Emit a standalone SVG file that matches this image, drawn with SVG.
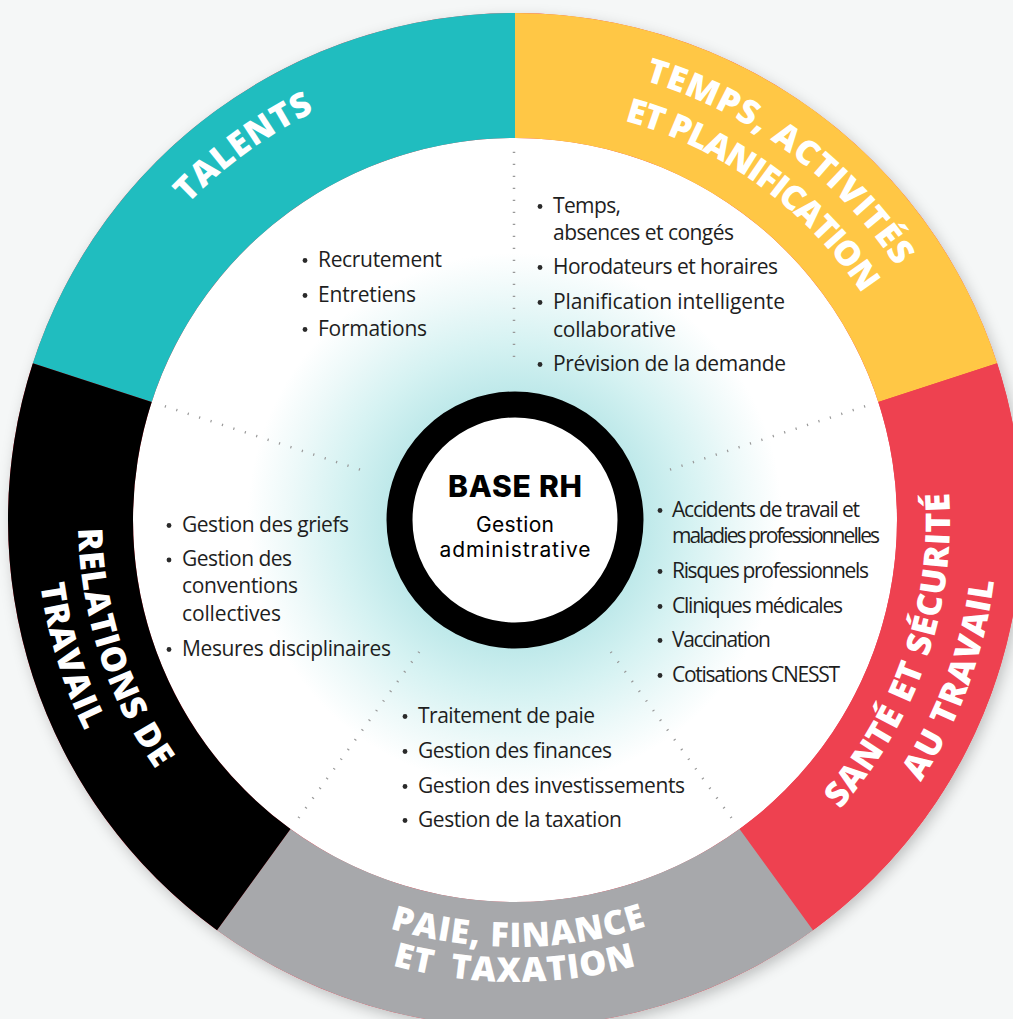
<svg xmlns="http://www.w3.org/2000/svg" width="1013" height="1019" viewBox="0 0 1013 1019">
<defs>
<style>
.item{font-family:"Open Sans","Noto Sans",sans-serif;font-size:21px;fill:#1e1e1e}
.title{font-family:"Open Sans","Noto Sans",sans-serif;font-weight:800;font-size:34px;fill:#ffffff}
.bul{fill:#2a2a2a}
.dots{stroke:#999999;stroke-width:2.5;stroke-dasharray:1.2 10.8;fill:none}
.center{font-family:Inter,"Noto Sans",sans-serif;fill:#000000}
</style>
<radialGradient id="glow" cx="515" cy="520" r="382" gradientUnits="userSpaceOnUse">
<stop offset="0" stop-color="#bde9ea"/>
<stop offset="0.34" stop-color="#bfe9ea"/>
<stop offset="0.46" stop-color="#d5f2f2"/>
<stop offset="0.59" stop-color="#edf9f9"/>
<stop offset="0.70" stop-color="#ffffff"/>
<stop offset="1" stop-color="#ffffff"/>
</radialGradient>
<filter id="shadow" x="-10%" y="-10%" width="120%" height="120%">
<feDropShadow dx="3" dy="5" stdDeviation="7" flood-color="#000" flood-opacity="0.22"/>
</filter>
<path id="arcTalents" d="M 62.49 567.56 A 455 455 0 0 1 700.07 104.34"/>
<path id="arcTemps1" d="M 332.37 99.99 A 457 457 0 0 1 969.06 571.73"/>
<path id="arcTemps2" d="M 346.61 141.79 A 415 415 0 0 1 927.73 563.38"/>
<path id="arcSante1" d="M 598.00 947.01 A 435 435 0 0 0 843.30 234.61"/>
<path id="arcSante2" d="M 598.87 995.66 A 483 483 0 0 0 885.00 209.53"/>
<path id="arcRel1" d="M 190.25 227.59 A 437 437 0 0 0 424.14 947.45"/>
<path id="arcRel2" d="M 164.68 193.32 A 479 479 0 0 0 407.25 986.72"/>
<path id="arcPaie1" d="M 147.08 736.72 A 427 427 0 0 0 886.64 730.26"/>
<path id="arcPaie2" d="M 114.90 751.00 A 462 462 0 0 0 915.10 751.00"/>
</defs>

<rect x="0" y="0" width="1013" height="1019" fill="#f5f7f7"/>

<g id="wheel-base">
<circle cx="515" cy="520" r="507" fill="#ee4150" filter="url(#shadow)"/>
<circle cx="515" cy="520" r="382" fill="url(#glow)"/>
</g>

<g id="connectors">
<line class="dots" x1="514" y1="357" x2="514" y2="148"/>
<line class="dots" x1="670.02" y1="469.63" x2="866.89" y2="405.66"/>
<line class="dots" x1="610.81" y1="651.87" x2="732.48" y2="819.34"/>
<line class="dots" x1="419.19" y1="651.87" x2="297.52" y2="819.34"/>
<line class="dots" x1="359.98" y1="469.63" x2="163.11" y2="405.66"/>
</g>

<g id="talents">
<path d="M 32.81 363.33 A 507 507 0 0 1 515 13 L 515 138 A 382 382 0 0 0 151.70 401.96 Z" fill="#20bdbf"/>
<text class="title" letter-spacing="1"><textPath href="#arcTalents" startOffset="50%" text-anchor="middle">TALENTS</textPath></text>
<circle class="bul" cx="305" cy="260.5" r="2.4"/>
<text class="item" x="318" y="267" textLength="124">Recrutement</text>
<circle class="bul" cx="305" cy="295.5" r="2.4"/>
<text class="item" x="318" y="302" textLength="98">Entretiens</text>
<circle class="bul" cx="305" cy="329.5" r="2.4"/>
<text class="item" x="318" y="336" textLength="109">Formations</text>
</g>

<g id="temps">
<path d="M 515 13 A 507 507 0 0 1 997.19 363.33 L 878.30 401.96 A 382 382 0 0 0 515 138 Z" fill="#ffc745"/>
<text class="title" letter-spacing="1"><textPath href="#arcTemps1" startOffset="50%" text-anchor="middle">TEMPS, ACTIVITÉS</textPath></text>
<text class="title" letter-spacing="-1.2"><textPath href="#arcTemps2" startOffset="50%" text-anchor="middle">ET PLANIFICATION</textPath></text>
<circle class="bul" cx="540" cy="206.5" r="2.4"/>
<text class="item" x="553" y="213" textLength="68">Temps,</text>
<text class="item" x="553" y="240" textLength="181">absences et congés</text>
<circle class="bul" cx="540" cy="267.5" r="2.4"/>
<text class="item" x="553" y="274" textLength="225">Horodateurs et horaires</text>
<circle class="bul" cx="540" cy="302.5" r="2.4"/>
<text class="item" x="553" y="309" textLength="232">Planification intelligente</text>
<text class="item" x="553" y="337" textLength="123">collaborative</text>
<circle class="bul" cx="540" cy="364.5" r="2.4"/>
<text class="item" x="553" y="371" textLength="233">Prévision de la demande</text>
</g>

<g id="sante">
<path d="M 997.19 363.33 A 507 507 0 0 1 813.01 930.17 L 739.53 829.04 A 382 382 0 0 0 878.30 401.96 Z" fill="#ee4150"/>
<text class="title" letter-spacing="1"><textPath href="#arcSante1" startOffset="50%" text-anchor="middle">SANTÉ ET SÉCURITÉ</textPath></text>
<text class="title" letter-spacing="1"><textPath href="#arcSante2" startOffset="50%" text-anchor="middle">AU TRAVAIL</textPath></text>
<circle class="bul" cx="660" cy="510.5" r="2.4"/>
<text class="item" x="672" y="517" textLength="188">Accidents de travail et</text>
<text class="item" x="672" y="543" textLength="208">maladies professionnelles</text>
<circle class="bul" cx="660" cy="571.5" r="2.4"/>
<text class="item" x="672" y="578" textLength="197">Risques professionnels</text>
<circle class="bul" cx="660" cy="606.5" r="2.4"/>
<text class="item" x="672" y="613" textLength="171">Cliniques médicales</text>
<circle class="bul" cx="660" cy="640.5" r="2.4"/>
<text class="item" x="672" y="647" textLength="99">Vaccination</text>
<circle class="bul" cx="660" cy="675.5" r="2.4"/>
<text class="item" x="672" y="682" textLength="168">Cotisations CNESST</text>
</g>

<g id="paie">
<path d="M 813.01 930.17 A 507 507 0 0 1 216.99 930.17 L 290.47 829.04 A 382 382 0 0 0 739.53 829.04 Z" fill="#a7a8ab"/>
<text class="title" letter-spacing="1"><textPath href="#arcPaie1" startOffset="50%" text-anchor="middle">PAIE, FINANCE</textPath></text>
<text class="title" letter-spacing="1"><textPath href="#arcPaie2" startOffset="50%" text-anchor="middle">ET <tspan dx="8">TAXATION</tspan></textPath></text>
<circle class="bul" cx="405" cy="716.5" r="2.4"/>
<text class="item" x="418" y="723" textLength="177">Traitement de paie</text>
<circle class="bul" cx="405" cy="751.5" r="2.4"/>
<text class="item" x="418" y="758" textLength="194">Gestion des finances</text>
<circle class="bul" cx="405" cy="786.5" r="2.4"/>
<text class="item" x="418" y="793" textLength="267">Gestion des investissements</text>
<circle class="bul" cx="405" cy="820.5" r="2.4"/>
<text class="item" x="418" y="827" textLength="204">Gestion de la taxation</text>
</g>

<g id="relations">
<path d="M 216.99 930.17 A 507 507 0 0 1 32.81 363.33 L 151.70 401.96 A 382 382 0 0 0 290.47 829.04 Z" fill="#000000"/>
<text class="title" letter-spacing="1"><textPath href="#arcRel1" startOffset="50%" text-anchor="middle">RELATIONS DE</textPath></text>
<text class="title" letter-spacing="1"><textPath href="#arcRel2" startOffset="50%" text-anchor="middle">TRAVAIL</textPath></text>
<circle class="bul" cx="169" cy="525.5" r="2.4"/>
<text class="item" x="182" y="532" textLength="167">Gestion des griefs</text>
<circle class="bul" cx="169" cy="560" r="2.4"/>
<text class="item" x="182" y="566" textLength="110">Gestion des</text>
<text class="item" x="182" y="593" textLength="116">conventions</text>
<text class="item" x="182" y="621" textLength="99">collectives</text>
<circle class="bul" cx="169" cy="649.5" r="2.4"/>
<text class="item" x="182" y="656" textLength="209">Mesures disciplinaires</text>
</g>

<g id="base-rh">
<circle cx="515" cy="520" r="115.5" fill="#ffffff" stroke="#000000" stroke-width="26"/>
<text class="center" x="515" y="497" text-anchor="middle" textLength="134" style="font-weight:800;font-size:30px">BASE RH</text>
<text class="center" x="515" y="532" text-anchor="middle" textLength="78" style="font-size:21px">Gestion</text>
<text class="center" x="515" y="557" text-anchor="middle" textLength="151" style="font-size:21px">administrative</text>
</g>
</svg>
